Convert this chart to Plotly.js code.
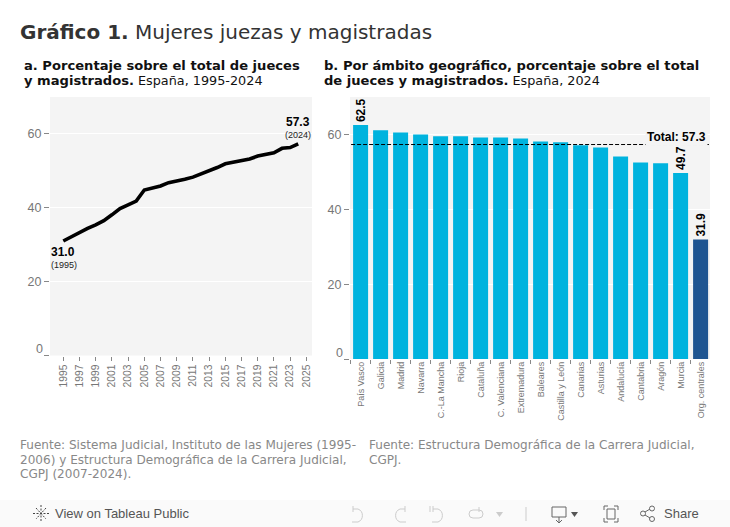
<!DOCTYPE html>
<html><head><meta charset="utf-8">
<script src="https://cdn.plot.ly/plotly-3.0.1.min.js"></script>
<style>
html,body{margin:0;padding:0;background:#fff;width:730px;height:527px;overflow:hidden}
#chart{position:absolute;left:0;top:0;width:730px;height:527px}
#bar{position:absolute;left:0;top:500px;width:730px;height:27px;background:#fafafa;font-family:"Liberation Sans",Arial,sans-serif;font-size:13px;color:#555}
#bar span{position:absolute;top:6px}
#bar svg{position:absolute;left:0;top:0}
</style></head><body>
<div id="chart"></div>
<div id="bar">
<svg width="730" height="27" fill="none" stroke="#666" stroke-width="1">
<path d="M41 5v17M33 13.500h17M36 8l10 11M46 8L36 19" stroke-dasharray="2 1.500" stroke="#444"/>
<g stroke="#ccc"><path d="M353 9h5a7 7 0 0 1 0 13h-6M353 6v6"/><path d="M405 9h-5a7 7 0 0 0 0 13h6M405 6v6"/><path d="M433 9h5a7 7 0 0 1 0 13h-6M433 6v6M430 6v6"/><path d="M479 10h-6a4 4 0 0 0 0 8h6a4 4 0 0 0 0-8M479 7v5"/></g>
<path d="M496 12h7l-3.500 5z" fill="#ccc" stroke="none"/>
<path d="M526 7v14" stroke="#ccc"/>
<path d="M552 7h14v10h-14zM559 17v6M556 20l3 3 3-3"/>
<path d="M571 12h7l-3.500 5z" fill="#555" stroke="none"/>
<path d="M604 10V6h4M614 6h4v4M618 18v4h-4M608 22h-4v-4M607 9h8v10h-8z"/>
<circle cx="643" cy="13.500" r="2.500"/><circle cx="652" cy="8.500" r="2.500"/><circle cx="652" cy="19" r="2.500"/><path d="M645 12l5-3M645 15l5 3"/>
</svg>
<span style="left:55px">View on Tableau Public</span>
<span style="left:664px">Share</span>
</div>
<script>
var years=[1995,1996,1997,1998,1999,2000,2001,2002,2003,2004,2005,2006,2007,2008,2009,2010,2011,2012,2013,2014,2015,2016,2017,2018,2019,2020,2021,2022,2023,2024];
var shares=[31.0,32.2,33.3,34.4,35.4,36.5,38.1,39.8,40.8,41.8,44.8,45.3,45.9,46.8,47.2,47.7,48.3,49.1,50.0,50.9,51.9,52.4,52.7,53.2,54.0,54.4,54.9,56.1,56.3,57.3];
var yearTicks=[1995,1997,1999,2001,2003,2005,2007,2009,2011,2013,2015,2017,2019,2021,2023,2025];
var regions=["País Vasco","Galicia","Madrid","Navarra","C.-La Mancha","Rioja","Cataluña","C. Valenciana","Extremadura","Baleares","Castilla y León","Canarias","Asturias","Andalucía","Cantabria","Aragón","Murcia","Org. centrales"];
var regionValues=[62.5,61.1,60.5,60.0,59.5,59.5,59.2,59.2,58.9,58.1,57.9,57.1,56.5,54.1,52.5,52.3,49.7,31.9];
var regionColors=["#00b3de","#00b3de","#00b3de","#00b3de","#00b3de","#00b3de","#00b3de","#00b3de","#00b3de","#00b3de","#00b3de","#00b3de","#00b3de","#00b3de","#00b3de","#00b3de","#00b3de","#1f5591"];
var regionLabels=["62.5","","","","","","","","","","","","","","","","49.7","31.9"];
var total=57.3;
var W=730,H=527;
var sans='"DejaVu Sans",sans-serif', arial='"Liberation Sans",Arial,sans-serif';
function px(x){return x/W} function py(y){return 1-y/H}
function textAt(x,y,text,size,color,fam,opts){
  return Object.assign({xref:'paper',yref:'paper',x:px(x),y:py(y),text:text,showarrow:false,xanchor:'left',yanchor:'top',align:'left',
    font:{family:fam||sans,size:size,color:color||'#000'}},opts||{});
}
var yAxisBase={range:[0,70],tickvals:[0,20,40,60],ticktext:['','20','40','60'],ticks:'outside',ticklen:5,tickcolor:'#888',tickwidth:1,
  tickfont:{family:arial,size:12.500,color:'#777'},showgrid:true,gridcolor:'#fff',gridwidth:1,zeroline:false,showline:false};
var traces=[
 {type:'scatter',mode:'lines',x:years,y:shares,xaxis:'x',yaxis:'y',line:{color:'#000',width:3.600},hoverinfo:'skip'},
 {type:'bar',x:regions,y:regionValues,xaxis:'x2',yaxis:'y2',marker:{color:regionColors,line:{width:0}},width:0.75,
  text:regionLabels,textposition:'outside',textangle:-90,cliponaxis:false,constraintext:'none',
  textfont:{family:arial,size:12,color:'#000',weight:'bold'},hoverinfo:'skip'}
];
var sub=function(b,r){return '<b>'+b+'</b>'+(r?'<span style="font-size:12.8px"> '+r+'</span>':'');};
var layout={width:W,height:H,margin:{l:0,r:0,t:0,b:0},paper_bgcolor:'#fff',plot_bgcolor:'#f4f4f4',showlegend:false,
 xaxis:{domain:[px(50),px(312)],anchor:'y',range:[1993.36,2025.7],tickvals:yearTicks,ticktext:yearTicks.map(String),tickangle:-90,ticks:'outside',ticklen:4,tickcolor:'#888',
   tickfont:{family:arial,size:10.300,color:'#777'},showgrid:false,zeroline:false,showline:false},
 yaxis:Object.assign({domain:[py(355.5),py(97)],anchor:'x'},yAxisBase),
 xaxis2:{domain:[px(350),px(710)],anchor:'y2',type:'category',categoryorder:'array',categoryarray:regions,range:[-0.53,17.47],tickson:'boundaries',tickangle:-90,ticks:'outside',ticklen:4,tickcolor:'#888',
   tickfont:{family:arial,size:9,color:'#777'},showgrid:false,zeroline:false,showline:false},
 yaxis2:Object.assign({domain:[py(359),py(97)],anchor:'x2'},yAxisBase),
 shapes:[{type:'line',xref:'x2 domain',yref:'y2',x0:0.003,x1:0.997,y0:total,y1:total,line:{color:'#000',width:1,dash:'4px,2px'}}],
 annotations:[
  textAt(18,18,'<b>Gráfico 1.</b> Mujeres juezas y magistradas',20,'#333'),
  textAt(22,56,sub('a. Porcentaje sobre el total de jueces'),13.100,'#111'),
  textAt(22,71,sub('y magistrados.','España, 1995-2024'),13.100,'#111'),
  textAt(322,56,sub('b. Por ámbito geográfico, porcentaje sobre el total'),13.100,'#111'),
  textAt(322,71,sub('de jueces y magistrados.','España, 2024'),13.100,'#111'),
  textAt(18,436,'Fuente: Sistema Judicial, Instituto de las Mujeres (1995-',12.050,'#888'),
  textAt(18,450.500,'2006) y Estructura Demográfica de la Carrera Judicial,',12.050,'#888'),
  textAt(18,465,'CGPJ (2007-2024).',12.050,'#888'),
  textAt(367,436,'Fuente: Estructura Demográfica de la Carrera Judicial,',12.050,'#888'),
  textAt(367,450.500,'CGPJ.',12.050,'#888'),
  textAt(49,243,'<b>'+shares[0].toFixed(1)+'</b>',12,'#000',arial),
  textAt(49,258,'('+years[0]+')',9,'#222',arial),
  textAt(284,113,'<b>'+shares[shares.length-1].toFixed(1)+'</b>',12,'#000',arial),
  textAt(283,128,'('+years[years.length-1]+')',9,'#222',arial),
  textAt(34,340,'0',12.500,'#777',arial),
  textAt(334,344,'0',12.500,'#777',arial),
  textAt(645,128,'<b>Total: '+total.toFixed(1)+'</b>',12,'#000',arial,{bgcolor:'#f4f4f4'})
 ]
};
Plotly.newPlot('chart',traces,layout,{displayModeBar:false,staticPlot:true});
</script></body></html>
